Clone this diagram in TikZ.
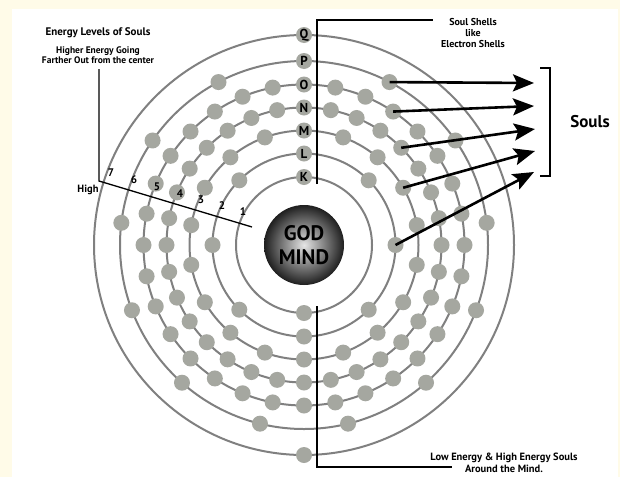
\documentclass[tikz,border=0pt]{standalone}
\usepackage{fontspec}
\setmainfont{PT Sans}
\usetikzlibrary{arrows.meta, positioning, calc}
\definecolor{paper}{RGB}{255,251,232}
\definecolor{shellgray}{RGB}{128,128,128}
\definecolor{soulgray}{RGB}{165,167,160}

\begin{document}
\begin{tikzpicture}[
    x=1pt, y=-1pt,
    shell/.style={draw=shellgray, line width=2pt},
    soul/.style={circle, fill=soulgray, inner sep=0pt, minimum size=16pt},
    shellname/.style={soul, font=\bfseries\fontsize{13}{13}\selectfont},
    note/.style={font=\bfseries\fontsize{#1}{\dimexpr #1pt*5/4\relax}\selectfont, align=center, inner sep=0pt},
    note/.default=9,
    guide/.style={line width=1.3pt},
    pointer/.style={-{Stealth[length=21pt, width=17pt, inset=4pt]}, line width=2.6pt}
]

% Background
\fill[paper] (0,0) rectangle (620,477);
\fill[white] (12,9) rectangle (618,477);
\useasboundingbox (0,0) rectangle (620,477);

\coordinate (c) at (304,245);

% Shells
\foreach \r in {68,91.5,114.5,137.5,160.5,184,210}
  \draw[shell] (c) circle[radius=\r];

% Guide lines
\coordinate (shellsfoot) at (317,184);
\coordinate (shellshead) at (433,20);
\coordinate (lowtop) at (317,306);
\coordinate (lowend) at (452,467);
\coordinate (leveltop) at (99,69);
\coordinate (levelcorner) at (99,181);
\coordinate (levelend) at (252,227);
\draw[guide] (shellsfoot) |- (shellshead);
\draw[guide] (lowtop) |- (lowend);
\draw[guide] (leveltop) -- (levelcorner) -- (levelend);

% Souls on each shell, shell name on top
\foreach \name/\r/\n in {K/68/2, L/91.5/8, M/114.5/18, N/137.5/32, O/160.5/32, P/184/13, Q/210/2} {
  \node[shellname] (\name0) at ($(c)+(-90:\r)$) {\name};
  \pgfmathtruncatemacro\last{\n-1}
  \foreach \k in {1,...,\last}
    \node[soul] (\name\k) at ($(c)+({-90+\k*360/\n}:\r)$) {};
}

% God mind
\node[circle, minimum size=80pt, inner sep=0pt, shading=radial,
      inner color=white!90!black, outer color=black!88,
      font=\bfseries\fontsize{21}{24}\selectfont, align=center] (god) at (c) {GOD\\MIND};

% Energy level numbers
\node[note=11] (n7) at (111,173) {7};
\node[note=11] (n6) at (134,180) {6};
\node[note=11] (n5) at (157,187) {5};
\node[note=11] (n4) at (180,194) {4};
\node[note=11] (n3) at (201,200) {3};
\node[note=11] (n2) at (222,206) {2};
\node[note=11] (n1) at (243,212) {1};
\node[note=10.5] (high) at (88,190) {High};

% Arrows to the souls
\coordinate (tip1) at (534,83);
\coordinate (tip2) at (534,106);
\coordinate (tip3) at (535,129);
\coordinate (tip4) at (535,151);
\coordinate (tip5) at (534,172);
\draw[pointer] (P1.center) -- (tip1);
\draw[pointer] (O3.center) -- (tip2);
\draw[pointer] (N4.center) -- (tip3);
\draw[pointer] (M3.center) -- (tip4);
\draw[pointer] (L2.center) -- (tip5);
\draw[guide, line width=1.6pt] (540,68) -- (550,68) -- (550,176) -- (540,176);

% Labels
\node[note=17] (souls) at (590,122) {Souls};
\node[note=10] (shellstext) at (473,33) {Soul Shells\\[-1.5pt]like\\[-1.5pt]Electron Shells};
\node[note=11] (leveltitle) at (98,33) {Energy Levels of Souls};
\node[note=9.5] (levelnote) at (98,55) {Higher Energy Going\\[-1.5pt]Farther Out from the center};
\node[note=10.5] (lowtext) at (504,463) {Low Energy \& High Energy Souls\\[-1.5pt]Around the Mind.};

\end{tikzpicture}
\end{document}
